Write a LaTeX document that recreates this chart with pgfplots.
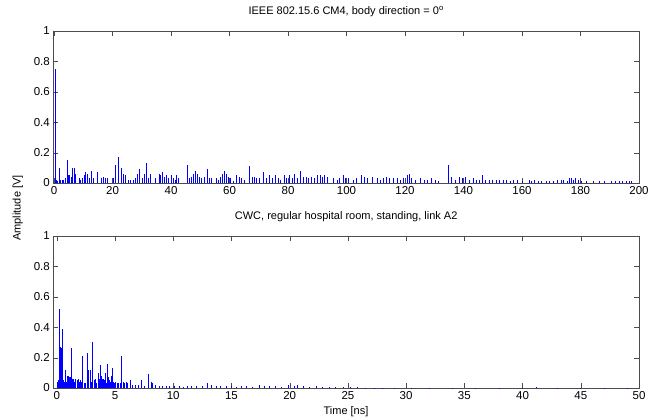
\documentclass[border=0pt]{standalone}
\usepackage{pgfplots}
\pgfplotsset{compat=1.18}
\usepackage{pgfplotstable}
\usepackage{fontspec}
\setmainfont{Liberation Sans}
\pgfplotstableread{
x y
0.45 0.75
0.8 0.02
1.2 0.01
1.9 0.10
2.3 0.02
2.8 0.02
3.3 0.02
3.8 0.03
4.6 0.15
5.0 0.05
5.4 0.05
5.9 0.04
6.4 0.10
6.9 0.10
7.3 0.06
8.6 0.03
9.2 0.02
9.8 0.03
10.4 0.05
10.9 0.07
11.4 0.06
12.1 0.03
12.8 0.08
13.5 0.03
14.9 0.07
16.3 0.03
16.9 0.04
17.6 0.03
18.4 0.03
20.2 0.03
21.1 0.12
22.1 0.17
23.2 0.10
23.8 0.06
24.4 0.05
25.5 0.02
26.3 0.02
27.0 0.02
27.8 0.03
28.4 0.06
29.1 0.09
30.4 0.03
31.1 0.06
31.6 0.13
32.4 0.03
33.0 0.06
34.7 0.03
35.9 0.06
36.5 0.05
37.0 0.07
37.7 0.04
38.4 0.05
39.2 0.03
40.0 0.05
40.8 0.03
41.4 0.02
42.0 0.05
42.6 0.03
45.6 0.12
46.3 0.03
47.0 0.04
47.6 0.06
48.3 0.08
49.0 0.06
49.6 0.04
50.5 0.03
51.4 0.04
52.3 0.09
53.0 0.03
53.8 0.03
55.4 0.03
56.2 0.02
57.0 0.04
57.5 0.06
58.3 0.08
58.9 0.06
59.6 0.04
60.4 0.03
61.2 0.01
62.5 0.05
63.3 0.04
64.2 0.03
65.0 0.02
67.0 0.11
67.8 0.04
68.5 0.04
69.3 0.03
70.1 0.03
71.6 0.07
72.5 0.03
73.5 0.05
74.6 0.03
75.7 0.05
76.6 0.03
77.4 0.02
78.8 0.05
79.6 0.03
80.5 0.05
81.4 0.03
82.2 0.06
83.1 0.03
84.4 0.08
85.2 0.04
86.2 0.04
87.0 0.03
88.1 0.04
89.0 0.03
90.0 0.05
91.0 0.05
91.8 0.04
92.6 0.05
93.4 0.04
95.5 0.03
96.8 0.02
97.6 0.03
99.0 0.05
99.6 0.03
100.8 0.03
102.4 0.02
103.5 0.03
105.1 0.05
106.0 0.04
107.3 0.03
109.0 0.04
110.5 0.03
111.6 0.02
112.5 0.03
113.8 0.04
114.8 0.03
116.2 0.03
117.5 0.03
118.4 0.02
119.6 0.03
120.8 0.05
121.4 0.06
122.3 0.03
123.6 0.02
125.2 0.03
126.5 0.02
127.8 0.02
129.2 0.03
130.5 0.02
131.6 0.01
134.9 0.12
135.8 0.04
137.2 0.02
138.6 0.04
139.5 0.03
140.8 0.04
142.0 0.02
143.5 0.03
144.5 0.02
145.6 0.02
146.6 0.05
147.6 0.02
148.8 0.02
150.0 0.02
151.2 0.02
152.4 0.02
153.6 0.02
154.8 0.02
156.2 0.01
157.0 0.02
158.5 0.02
160.2 0.01
162.4 0.02
163.3 0.01
164.4 0.02
165.5 0.01
166.6 0.01
168.4 0.01
169.5 0.01
170.6 0.01
172.0 0.02
173.4 0.02
174.2 0.02
175.4 0.01
176.4 0.03
176.9 0.03
177.5 0.02
178.4 0.03
179.4 0.02
180.4 0.01
182.0 0.01
184.5 0.01
186.4 0.01
188.2 0.01
190.6 0.01
192.0 0.01
193.4 0.01
194.5 0.01
195.6 0.01
196.6 0.01
197.5 0.01
}\topdata
\pgfplotstableread{
x y
0.05 0.04
0.12 0.05
0.18 0.05
0.26 0.52
0.33 0.27
0.38 0.26
0.48 0.39
0.55 0.05
0.62 0.04
0.72 0.12
0.80 0.04
0.88 0.08
0.95 0.08
1.02 0.08
1.08 0.07
1.14 0.07
1.22 0.06
1.30 0.26
1.38 0.06
1.46 0.06
1.56 0.04
1.62 0.06
1.75 0.05
1.84 0.06
1.95 0.04
2.05 0.05
2.15 0.04
2.24 0.21
2.35 0.03
2.48 0.03
2.60 0.23
2.68 0.06
2.76 0.12
2.90 0.12
2.98 0.04
3.10 0.30
3.22 0.05
3.32 0.06
3.45 0.03
3.55 0.10
3.62 0.08
3.70 0.06
3.78 0.15
3.85 0.08
3.92 0.06
4.00 0.06
4.10 0.05
4.20 0.10
4.28 0.03
4.38 0.16
4.45 0.07
4.55 0.05
4.62 0.04
4.70 0.08
4.78 0.13
4.85 0.04
4.95 0.03
5.05 0.04
5.20 0.03
5.32 0.03
5.45 0.03
5.58 0.21
5.70 0.04
5.80 0.03
5.95 0.04
6.10 0.03
6.30 0.05
6.50 0.02
6.75 0.02
7.00 0.02
7.30 0.05
7.55 0.01
7.90 0.09
8.10 0.04
8.25 0.03
8.50 0.02
8.80 0.01
9.10 0.01
9.40 0.01
9.70 0.015
10.1 0.01
10.5 0.01
10.9 0.005
11.2 0.01
11.6 0.01
12.0 0.01
12.5 0.015
12.9 0.03
13.3 0.02
13.7 0.01
14.1 0.015
14.6 0.01
15.0 0.01
15.4 0.005
15.9 0.01
16.3 0.01
16.8 0.005
17.4 0.02
17.8 0.01
18.3 0.01
18.8 0.01
19.3 0.005
19.9 0.02
20.4 0.01
20.7 0.02
21.2 0.01
21.7 0.005
22.3 0.01
22.8 0.005
23.4 0.005
23.9 0.005
24.6 0.005
25.2 0.008
25.8 0.005
26.5 0.003
27.3 0.003
28.0 0.003
29.0 0.002
30.5 0.002
32.0 0.002
34.0 0.002
36.0 0.002
38.0 0.002
40.0 0.002
41.2 0.004
43.0 0.002
45.0 0.002
47.0 0.002
49.0 0.002
}\botdata
\pgfplotsset{mystyle/.style={
  scale only axis, width=585.7pt, height=152pt, anchor=south west,
  ymin=0, ymax=1, ytick={0,0.2,0.4,0.6,0.8,1},
  tick align=inside, major tick length=5pt,
  axis line style={black!70}, tick style={black!70},
  ticklabel style={font=\fontsize{11.5}{13}\selectfont},
  /pgf/number format/assume math mode=true,
  title style={font=\fontsize{11}{12}\selectfont, at={(0.5,1)}, anchor=base, yshift=11pt},
}}
\begin{document}
\begin{tikzpicture}
\useasboundingbox (0,0) rectangle (650pt,416pt);
\begin{axis}[mystyle, at={(53.3pt,233pt)},
  xmin=-0.25, xmax=200, xtick={0,20,...,200},
  title={IEEE 802.15.6 CM4, body direction = 0\textsuperscript{o}}]
\addplot[ycomb, color=blue, line width=1pt] table[x=x,y=y] {\topdata};
\end{axis}
\begin{axis}[mystyle, at={(53.3pt,28pt)},
  xmin=-0.3, xmax=50, xtick={0,5,...,50},
  title={CWC, regular hospital room, standing, link A2}]
\addplot[ycomb, color=blue, line width=1pt] table[x=x,y=y] {\botdata};
\end{axis}
\node[rotate=90, anchor=base, font=\fontsize{11}{12}\selectfont] at (20.5pt,208pt) {Amplitude [V]};
\node[anchor=base, font=\fontsize{11}{12}\selectfont] at (346pt,1.5pt) {Time [ns]};
\end{tikzpicture}
\end{document}
